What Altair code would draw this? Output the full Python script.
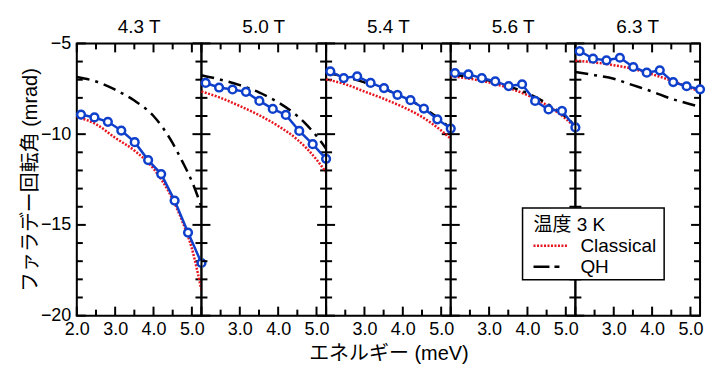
import altair as alt
import pandas as pd

# ---------------- data ----------------
fields = ["4.3 T", "5.0 T", "5.4 T", "5.6 T", "6.3 T"]

energy_pts = [2.11, 2.46, 2.81, 3.16, 3.51, 3.86, 4.20, 4.55, 4.90, 5.25]
meas_43 = [-8.92, -9.08, -9.32, -9.80, -10.44, -11.43, -12.20, -13.66, -15.42, -17.10]
meas_50 = [-7.18, -7.43, -7.54, -7.67, -8.17, -8.61, -8.94, -9.82, -10.55, -11.36]
meas_54 = [-6.54, -6.91, -6.81, -7.18, -7.46, -7.83, -8.13, -8.59, -9.18, -9.69]
meas_56 = [-6.63, -6.70, -6.91, -7.09, -7.35, -7.25, -8.17, -8.64, -8.72, -9.63]
meas_63 = [-5.42, -5.84, -5.93, -5.79, -6.30, -6.61, -6.48, -7.13, -7.36, -7.53]
measured = [meas_43, meas_50, meas_54, meas_56, meas_63]

curve_e = [2.0, 2.5, 3.0, 3.5, 4.0, 4.5, 4.75, 5.0, 5.25]
cl_43 = [-9.05, -9.45, -10.2, -10.9, -11.9, -13.6, -14.8, -16.3, -18.6]
cl_50 = [-7.65, -8.0, -8.45, -8.95, -9.55, -10.3, -10.8, -11.4, -12.1]
cl_54 = [-6.98, -7.25, -7.65, -8.05, -8.5, -9.05, -9.4, -9.8, -10.25]
cl_56 = [-6.8, -6.95, -7.15, -7.45, -7.85, -8.4, -8.75, -9.15, -9.65]
cl_63 = [-5.95, -6.05, -6.2, -6.4, -6.7, -7.05, -7.25, -7.45, -7.65]
classical = [cl_43, cl_50, cl_54, cl_56, cl_63]

qh_43 = [-6.85, -7.1, -7.55, -8.15, -9.0, -10.5, -11.5, -12.6, -14.0]
qh_50 = [-6.75, -7.0, -7.3, -7.7, -8.25, -9.0, -9.5, -10.1, -10.8]
qh_54 = [-6.6, -6.85, -7.15, -7.5, -7.95, -8.5, -8.85, -9.25, -9.7]
qh_56 = [-6.7, -6.85, -7.05, -7.35, -7.75, -8.3, -8.65, -9.05, -9.55]
qh_63 = [-6.57, -6.75, -6.95, -7.3, -7.65, -8.05, -8.2, -8.35, -8.5]
qh = [qh_43, qh_50, qh_54, qh_56, qh_63]

x_domain = [2.0, 5.25]
y_domain = [-20, -5]
x_labels = [2.0, 3.0, 4.0, 5.0]
x_minor = [2.5, 3.5, 4.5]
y_labels = [-5, -10, -15, -20]
y_minor = [-6, -7, -8, -9, -11, -12, -13, -14, -16, -17, -18, -19]

x_title = "エネルギー (meV)"
y_title = "ファラデー回転角 (mrad)"
legend_title = "温度 3 K"
legend_labels = ["Classical", "QH"]

# ---------------- style ----------------
BLUE = "#0f40cc"
RED = "#e8141e"
FONT = "Liberation Sans, Noto Sans CJK JP"
W, H = 125, 273
MAJ, MIN = 9, 6


def panel(i, name):
    xs = alt.Scale(domain=x_domain, nice=False, zero=False)
    ys = alt.Scale(domain=y_domain, nice=False, zero=False)
    xax = alt.Axis(values=x_labels if i == 0 else x_labels[1:], format=".1f",
                   labelFontSize=18, labelFont=FONT, labelColor="black",
                   ticks=False, domain=False, grid=False, labelPadding=5,
                   labelFlush=False, labelOverlap=False,
                   title=x_title if i == 2 else None, titleFontSize=20,
                   titleFont=FONT, titleFontWeight="normal", titleColor="black",
                   titlePadding=5)
    if i == 0:
        yax = alt.Axis(values=y_labels, labelFontSize=18, labelFont=FONT,
                       labelColor="black", ticks=False, domain=False, grid=False,
                       labelPadding=6, labelFlush=False, labelOverlap=False,
                       title=y_title, titleFontSize=20, titleFont=FONT,
                       titleFontWeight="normal", titleColor="black",
                       titleX=-46, titleY=H / 2, titleAngle=270,
                       titleAlign="center", titleBaseline="middle")
    else:
        yax = None

    def X(f):
        return alt.X(f, type="quantitative", scale=xs, axis=xax)

    def Y(f):
        return alt.Y(f, type="quantitative", scale=ys, axis=yax)

    meas_df = pd.DataFrame({"e": energy_pts, "v": measured[i]})
    curve_df = pd.DataFrame({"e": curve_e, "cl": classical[i], "qh": qh[i]})
    ymaj = pd.DataFrame({"t": y_labels})
    ymin = pd.DataFrame({"t": y_minor})
    xmaj = pd.DataFrame({"t": x_labels})
    xmin = pd.DataFrame({"t": x_minor})
    one = pd.DataFrame({"k": [0]})
    title_df = pd.DataFrame({"name": [name]})

    tick = dict(color="black", strokeWidth=2)
    layers = [
        # panel title
        alt.Chart(title_df).mark_text(align="center", baseline="middle", fontSize=19,
                                      font=FONT, color="black").encode(
            x=alt.value(W / 2), y=alt.value(-16), text="name:N"),
        # frame
        alt.Chart(one).mark_rule(**tick).encode(x=alt.value(0), y=alt.value(0), y2=alt.value(H)),
        alt.Chart(one).mark_rule(**tick).encode(x=alt.value(W), y=alt.value(0), y2=alt.value(H)),
        alt.Chart(one).mark_rule(**tick).encode(y=alt.value(0), x=alt.value(-1), x2=alt.value(W + 1)),
        alt.Chart(one).mark_rule(**tick).encode(y=alt.value(H), x=alt.value(-1), x2=alt.value(W + 1)),
        # inward ticks
        alt.Chart(ymaj).mark_rule(**tick).encode(y=Y("t"), x=alt.value(0), x2=alt.value(MAJ)),
        alt.Chart(ymaj).mark_rule(**tick).encode(y=Y("t"), x=alt.value(W - MAJ), x2=alt.value(W)),
        alt.Chart(ymin).mark_rule(**tick).encode(y=Y("t"), x=alt.value(0), x2=alt.value(MIN)),
        alt.Chart(ymin).mark_rule(**tick).encode(y=Y("t"), x=alt.value(W - MIN), x2=alt.value(W)),
        alt.Chart(xmaj).mark_rule(**tick).encode(x=X("t"), y=alt.value(H - MAJ), y2=alt.value(H)),
        alt.Chart(xmaj).mark_rule(**tick).encode(x=X("t"), y=alt.value(0), y2=alt.value(MAJ)),
        alt.Chart(xmin).mark_rule(**tick).encode(x=X("t"), y=alt.value(H - MIN), y2=alt.value(H)),
        alt.Chart(xmin).mark_rule(**tick).encode(x=X("t"), y=alt.value(0), y2=alt.value(MIN)),
        # curves
        alt.Chart(curve_df).mark_line(color=RED, strokeWidth=2.5, strokeDash=[2, 1.5],
                                      interpolate="monotone").encode(x=X("e"), y=Y("cl")),
        alt.Chart(curve_df).mark_line(color="black", strokeWidth=2.5, strokeDash=[13, 6, 3, 6],
                                      interpolate="monotone").encode(x=X("e"), y=Y("qh")),
        alt.Chart(meas_df).mark_line(color=BLUE, strokeWidth=2.5).encode(x=X("e"), y=Y("v")),
        alt.Chart(meas_df).mark_point(shape="circle", filled=True, fill="white", stroke=BLUE,
                                      strokeWidth=2.5, size=60, opacity=1).encode(x=X("e"), y=Y("v")),
    ]
    if i == 4:
        lg = [
            alt.Chart(one).mark_rect(fill="white", stroke="black", strokeWidth=1.5).encode(
                x=alt.value(-53), x2=alt.value(89), y=alt.value(165), y2=alt.value(237)),
            alt.Chart(one).mark_text(align="left", baseline="middle", fontSize=19, font=FONT,
                                     color="black").encode(
                x=alt.value(-42), y=alt.value(182), text=alt.value(legend_title)),
            alt.Chart(one).mark_rule(color=RED, strokeWidth=2.5, strokeDash=[2, 1.5]).encode(
                x=alt.value(-42), x2=alt.value(-8), y=alt.value(203)),
            alt.Chart(one).mark_text(align="left", baseline="middle", fontSize=19, font=FONT,
                                     color="black").encode(
                x=alt.value(5), y=alt.value(203), text=alt.value(legend_labels[0])),
            alt.Chart(one).mark_rule(color="black", strokeWidth=2.5, strokeDash=[16, 5, 5, 60]).encode(
                x=alt.value(-42), x2=alt.value(-16), y=alt.value(224)),
            alt.Chart(one).mark_text(align="left", baseline="middle", fontSize=19, font=FONT,
                                     color="black").encode(
                x=alt.value(5), y=alt.value(224), text=alt.value(legend_labels[1])),
        ]
        layers += lg
    return alt.layer(*layers).properties(width=W, height=H)


panels = [panel(i, f) for i, f in enumerate(fields)]
chart = alt.hconcat(*panels, spacing=0, bounds="flush").properties(
    padding={"left": 12, "top": 9, "right": 5, "bottom": 5}
).configure_view(stroke=None).configure(background="white")

chart.save("out.html", embed_options={"renderer": "svg", "actions": False})
